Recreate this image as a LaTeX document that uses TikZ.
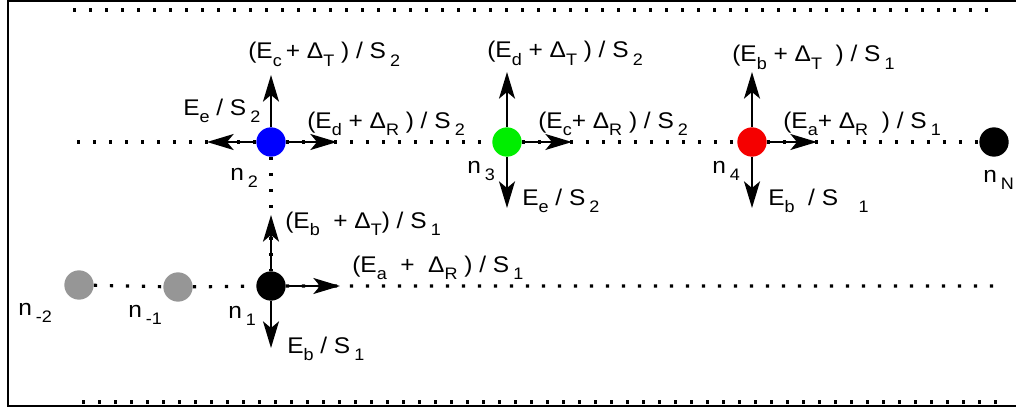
\documentclass[tikz,border=0pt]{standalone}
\usepackage{fontspec}
\setmainfont{Liberation Sans}
\usepackage{graphicx}
\usetikzlibrary{arrows.meta}
\newcommand{\lo}[1]{\raisebox{-5.5pt}{\fontsize{12.5pt}{13pt}\selectfont #1}}
\newcommand{\lab}[1]{\scalebox{1.08}[1]{#1}}
\definecolor{nblue}{RGB}{0,0,255}
\definecolor{ngreen}{RGB}{0,238,0}
\definecolor{nred}{RGB}{245,0,0}
\definecolor{ngray}{RGB}{150,150,150}
\begin{document}
\begin{tikzpicture}[x=0.75pt,y=-0.75pt,
  dots/.style={line width=2.4pt, dash pattern=on 2.4pt off 9.6pt},
  dotnode/.style={circle, inner sep=0pt, minimum size=22pt, draw=none},
  lbl/.style={anchor=base west, inner sep=0pt, font=\fontsize{17pt}{20pt}\selectfont},
  arr/.style={-{Stealth[length=20pt,width=12pt,inset=5pt]}, line width=1.3pt},
  frame/.style={line width=1.75pt}]
\useasboundingbox (0,0) rectangle (1016,410);
% frame
\draw[frame] (1016,1) -- (8,1) -- (8,406) -- (1016,406);
% nodes
\node[dotnode, fill=nblue]  (n2) at (271,142) {};
\node[dotnode, fill=ngreen] (n3) at (507,142) {};
\node[dotnode, fill=nred]   (n4) at (752,142) {};
\node[dotnode, fill=black]  (nN) at (994,142) {};
\node[dotnode, fill=black]  (n1) at (271,286) {};
\node[dotnode, fill=ngray]  (nm1) at (178,287) {};
\node[dotnode, fill=ngray]  (nm2) at (79,285) {};
% coordinates
\coordinate (t1) at (73,10);
\coordinate (t2) at (990,10);
\coordinate (b1) at (82,402);
\coordinate (b2) at (998,402);
\coordinate (m0) at (77,142);
\coordinate (l9) at (998,286);
% dotted lines
\draw[dots] (t1) -- (t2);
\draw[dots] (b1) -- (b2);
\draw[dots] (m0) -- (n2) -- (n3) -- (n4) -- (nN);
\draw[dots] (n2) -- (n1);
\draw[dots] (nm2) -- (nm1) -- (n1) -- (l9);
% arrow tips
\coordinate (a2u) at (271,75);
\coordinate (a2l) at (207,142);
\coordinate (a2r) at (337,142);
\coordinate (a3u) at (507,72);
\coordinate (a3r) at (572,142);
\coordinate (a3d) at (507,208);
\coordinate (a4u) at (752,72);
\coordinate (a4r) at (817,142);
\coordinate (a4d) at (752,208);
\coordinate (a1u) at (271,215);
\coordinate (a1r) at (340,286);
\coordinate (a1d) at (271,348);
% arrows
\draw[arr] (n2.north) -- (a2u);
\draw[arr] (n2.west) -- (a2l);
\draw[arr] (n2.east) -- (a2r);
\draw[arr] ([xshift=2.5pt]n3.east) -- (a3r);
\draw[arr] (n3.north) -- (a3u);
\draw[arr] (n3.south) -- (a3d);
\draw[arr] (n4.north) -- (a4u);
\draw[arr] ([xshift=2.5pt]n4.east) -- (a4r);
\draw[arr] (n4.south) -- (a4d);
\draw[arr] (n1.north) -- (a1u);
\draw[arr] (n1.east) -- (a1r);
\draw[arr] (n1.south) -- (a1d);
% labels
\node[lbl] (tA) at (248,59)  {\lab{(E\lo{c}\,+ Δ\lo{T} ) / S\,\lo{2}}};
\node[lbl] (tB) at (183,115) {\lab{E\lo{e} / S\,\lo{2}}};
\node[lbl] (tC) at (307,128) {\lab{(E\lo{d} + Δ\lo{R} ) / S\,\lo{2}}};
\node[lbl] (tD) at (487,58)  {\lab{(E\lo{d} + Δ\lo{T} ) / S\,\lo{2}}};
\node[lbl] (tE) at (538,128) {\lab{(E\lo{c}+ Δ\lo{R} ) / S\,\lo{2}}};
\node[lbl] (tG) at (522,205) {\lab{E\lo{e} / S\,\lo{2}}};
\node[lbl] (tH) at (732,62)  {\lab{(E\lo{b} + Δ\lo{T} \ ) / S\,\lo{1}}};
\node[lbl] (tI) at (783,128) {\lab{(E\lo{a}+ Δ\lo{R} \ ) / S\,\lo{1}}};
\node[lbl] (tK) at (768,205) {\lab{E\lo{b} \ / S \ \ \lo{1}}};
\node[lbl] (tN) at (285,228) {\lab{(E\lo{b} \ + Δ\lo{T}) / S\,\lo{1}}};
\node[lbl] (tO) at (352,272) {\lab{(E\lo{a} \ + \ Δ\lo{R}\ ) / S\,\lo{1}}};
\node[lbl] (tQ) at (287,353) {\lab{E\lo{b} / S\,\lo{1}}};
\node[lbl] (l2) at (230,180) {\lab{n\,\lo{2}}};
\node[lbl] (l3) at (467,173) {\lab{n\,\lo{3}}};
\node[lbl] (l4) at (712,173) {\lab{n\,\lo{4}}};
\node[lbl] (lN) at (983,182) {\lab{n\,\lo{N}}};
\node[lbl] (l1) at (228,318) {\lab{n\,\lo{1}}};
\node[lbl] (lm1) at (128,317) {\lab{n\,\lo{-1}}};
\node[lbl] (lm2) at (18,315) {\lab{n\,\lo{-2}}};
\end{tikzpicture}
\end{document}
